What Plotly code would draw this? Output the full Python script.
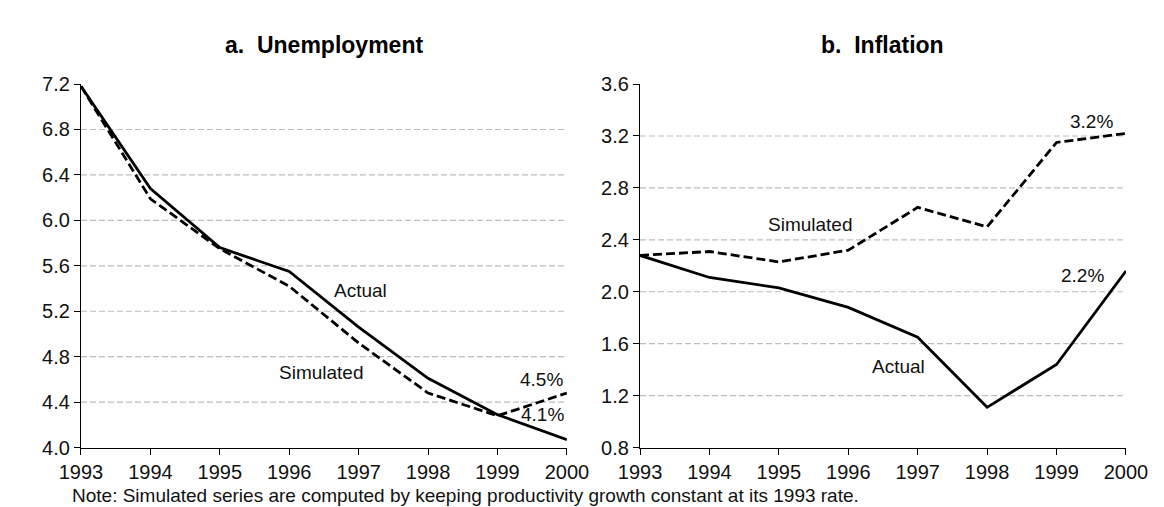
import plotly.graph_objects as go

years = [1993, 1994, 1995, 1996, 1997, 1998, 1999, 2000]
unemp_actual = [7.18, 6.28, 5.76, 5.55, 5.06, 4.61, 4.29, 4.07]
unemp_simulated = [7.18, 6.19, 5.75, 5.42, 4.92, 4.48, 4.28, 4.48]
infl_actual = [2.28, 2.11, 2.03, 1.88, 1.65, 1.11, 1.44, 2.16]
infl_simulated = [2.28, 2.31, 2.23, 2.32, 2.65, 2.50, 3.15, 3.22]

unemp_ticks = [4.0, 4.4, 4.8, 5.2, 5.6, 6.0, 6.4, 6.8, 7.2]
infl_ticks = [0.8, 1.2, 1.6, 2.0, 2.4, 2.8, 3.2, 3.6]

panel_titles = ["a.\u00a0 Unemployment", "b.\u00a0 Inflation"]
note = "Note: Simulated series are computed by keeping productivity growth constant at its 1993 rate."

FONT = "Liberation Sans, Arial, sans-serif"
W, H = 1164, 507

fig = go.Figure()

solid = dict(color="black", width=2.8)
dashed = dict(color="black", width=2.8, dash="9px,4px")

fig.add_trace(go.Scatter(x=years, y=unemp_actual, mode="lines", line=solid,
                         xaxis="x", yaxis="y", showlegend=False))
fig.add_trace(go.Scatter(x=years, y=unemp_simulated, mode="lines", line=dashed,
                         xaxis="x", yaxis="y", showlegend=False))
fig.add_trace(go.Scatter(x=years, y=infl_actual, mode="lines", line=solid,
                         xaxis="x2", yaxis="y2", showlegend=False))
fig.add_trace(go.Scatter(x=years, y=infl_simulated, mode="lines", line=dashed,
                         xaxis="x2", yaxis="y2", showlegend=False))

ydom = [(H - 448) / H, (H - 68) / H]
xdom1 = [53 / W, 558 / W]
xdom2 = [634 / W, 1139 / W]

tickfont = dict(family=FONT, size=20, color="#111111")

xcommon = dict(range=[years[0], years[-1]], tickvals=years, ticktext=[str(y) for y in years],
               showgrid=False, zeroline=False, showline=True, linecolor="black", linewidth=1.3,
               ticks="outside", ticklen=6, tickwidth=1.2, tickcolor="black", tickfont=tickfont)
ycommon = dict(showgrid=False, zeroline=False, showline=True, linecolor="black", linewidth=1.3,
               ticks="outside", ticklen=6, tickwidth=1.2, tickcolor="black", tickfont=tickfont,
               tickformat=".1f")

fig.update_layout(
    width=W, height=H,
    margin=dict(l=0, r=0, t=0, b=0),
    paper_bgcolor="white", plot_bgcolor="white",
    xaxis=dict(domain=xdom1, anchor="y", **xcommon),
    yaxis=dict(domain=ydom, anchor="x", range=[unemp_ticks[0], unemp_ticks[-1]],
               tickvals=unemp_ticks, **ycommon),
    xaxis2=dict(domain=xdom2, anchor="y2", **xcommon),
    yaxis2=dict(domain=ydom, anchor="x2", range=[infl_ticks[0], infl_ticks[-1]],
                tickvals=infl_ticks, **ycommon),
)

# gridlines at interior ticks
shapes = []
for yref, xref, ticks in [("y", "x domain", unemp_ticks), ("y2", "x2 domain", infl_ticks)]:
    for t in ticks[1:-1]:
        shapes.append(dict(type="line", xref=xref, yref=yref, x0=0, x1=1, y0=t, y1=t,
                           line=dict(color="#bdbdbd", width=1.2, dash="6px,3px"), layer="below"))
fig.update_layout(shapes=shapes)

ann = []
# panel titles
for dom, title in zip([xdom1, xdom2], panel_titles):
    ann.append(dict(text="<b>" + title + "</b>", xref="paper", yref="paper",
                    x=(dom[0] + dom[1]) / 2, y=(H - 27) / H, xanchor="center", yanchor="middle",
                    showarrow=False, font=dict(family=FONT, size=23, color="black")))
lab = dict(family=FONT, size=19, color="#111111")
ann += [
    dict(text="Actual", xref="x", yref="y", x=1997.03, y=5.38, showarrow=False, font=lab),
    dict(text="Simulated", xref="x", yref="y", x=1996.46, y=4.665, showarrow=False, font=lab),
    dict(text="4.5%", xref="x", yref="y", x=1999.97, y=4.60, xanchor="right", showarrow=False, font=lab),
    dict(text="4.1%", xref="x", yref="y", x=1999.99, y=4.29, xanchor="right", showarrow=False, font=lab),
    dict(text="Simulated", xref="x2", yref="y2", x=1995.45, y=2.515, showarrow=False, font=lab),
    dict(text="3.2%", xref="x2", yref="y2", x=1999.84, y=3.31, xanchor="right", showarrow=False, font=lab),
    dict(text="Actual", xref="x2", yref="y2", x=1996.72, y=1.424, showarrow=False, font=lab),
    dict(text="2.2%", xref="x2", yref="y2", x=1999.71, y=2.124, xanchor="right", showarrow=False, font=lab),
    dict(text=note, xref="paper", yref="paper", x=42 / W, y=(H - 498) / H, xanchor="left",
         yanchor="middle", showarrow=False, font=dict(family=FONT, size=19, color="#111111")),
]
fig.update_layout(annotations=ann)

fig.write_html("out.html")
